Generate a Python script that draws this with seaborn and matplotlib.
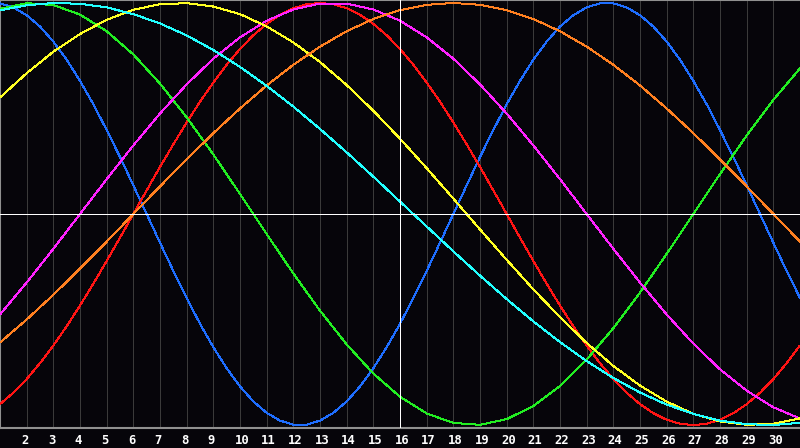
import pandas as pd
import seaborn as sns
import matplotlib.pyplot as plt
from matplotlib.transforms import ScaledTranslation

# days shown on the chart, today marked by the white line
days = list(range(1, 32))
half_days = [d / 2 for d in range(2, 63)]  # 1, 1.5, ... 31 for the fast cycles
label_days = list(range(2, 31))
today = 16

# cycle values
# fast cycles: one value per half day (1..31)
physical = [0.998, 0.979, 0.942, 0.888, 0.817, 0.731, 0.631, 0.520, 0.398, 0.270,
            0.136, 0.0, -0.136, -0.270, -0.398, -0.520, -0.631, -0.731, -0.817, -0.888,
            -0.942, -0.979, -0.998, -0.998, -0.979, -0.942, -0.888, -0.817, -0.731, -0.631,
            -0.520, -0.398, -0.270, -0.136, 0.0, 0.136, 0.270, 0.398, 0.520, 0.631,
            0.731, 0.817, 0.888, 0.942, 0.979, 0.998, 0.998, 0.979, 0.942, 0.888,
            0.817, 0.731, 0.631, 0.520, 0.398, 0.270, 0.136, 0.0, -0.136, -0.270, -0.398]
emotional = [-0.901, -0.847, -0.782, -0.707, -0.623, -0.532, -0.434, -0.330, -0.223, -0.112,
             0.0, 0.112, 0.223, 0.330, 0.434, 0.532, 0.623, 0.707, 0.782, 0.847,
             0.901, 0.944, 0.975, 0.994, 1.0, 0.994, 0.975, 0.944, 0.901, 0.847,
             0.782, 0.707, 0.623, 0.532, 0.434, 0.330, 0.223, 0.112, 0.0, -0.112,
             -0.223, -0.330, -0.434, -0.532, -0.623, -0.707, -0.782, -0.847, -0.901, -0.944,
             -0.975, -0.994, -1.0, -0.994, -0.975, -0.944, -0.901, -0.847, -0.782, -0.707, -0.623]
# slow cycles: one value per day (1..31)
intellectual = [0.972, 0.999, 0.990, 0.945, 0.866, 0.756, 0.618, 0.458, 0.282, 0.095,
                -0.095, -0.282, -0.458, -0.618, -0.756, -0.866, -0.945, -0.990, -0.999, -0.972,
                -0.910, -0.815, -0.690, -0.541, -0.372, -0.189, 0.0, 0.189, 0.372, 0.541, 0.690]
intuitive = [-0.476, -0.325, -0.165, 0.0, 0.165, 0.325, 0.476, 0.614, 0.736, 0.837,
             0.916, 0.969, 0.997, 0.997, 0.969, 0.916, 0.837, 0.736, 0.614, 0.476,
             0.325, 0.165, 0.0, -0.165, -0.325, -0.476, -0.614, -0.736, -0.837, -0.916, -0.969]
aesthetic = [0.552, 0.667, 0.769, 0.853, 0.920, 0.968, 0.994, 0.999, 0.983, 0.947,
             0.889, 0.813, 0.720, 0.611, 0.489, 0.357, 0.217, 0.073, -0.073, -0.217,
             -0.357, -0.489, -0.611, -0.720, -0.813, -0.889, -0.947, -0.983, -0.999, -0.994, -0.968]
awareness = [-0.609, -0.5, -0.383, -0.259, -0.131, 0.0, 0.131, 0.259, 0.383, 0.5,
             0.609, 0.707, 0.793, 0.866, 0.924, 0.966, 0.991, 1.0, 0.991, 0.966,
             0.924, 0.866, 0.793, 0.707, 0.609, 0.5, 0.383, 0.259, 0.131, 0.0, -0.131]
spiritual = [0.965, 0.989, 1.0, 0.996, 0.979, 0.947, 0.903, 0.846, 0.777, 0.697,
             0.607, 0.509, 0.403, 0.292, 0.177, 0.059, -0.059, -0.177, -0.292, -0.403,
             -0.509, -0.607, -0.697, -0.777, -0.846, -0.903, -0.947, -0.979, -0.996, -1.0, -0.989]

cycles = {
    "physical": (half_days, physical),
    "emotional": (half_days, emotional),
    "intellectual": (days, intellectual),
    "intuitive": (days, intuitive),
    "aesthetic": (days, aesthetic),
    "awareness": (days, awareness),
    "spiritual": (days, spiritual),
}
colors = {
    "physical": "#1e6eff",
    "emotional": "#ff1414",
    "intellectual": "#22ee22",
    "intuitive": "#ff22ff",
    "aesthetic": "#ffff22",
    "awareness": "#ff8020",
    "spiritual": "#22ffff",
}

df = pd.concat(
    [pd.DataFrame({"day": x, "value": v, "cycle": k}) for k, (x, v) in cycles.items()],
    ignore_index=True,
)

bg = "#06050a"
px = 0.72  # one pixel in points at 100 dpi
sns.set_style("dark", {"axes.facecolor": bg, "figure.facecolor": bg})
plt.rcParams["lines.antialiased"] = False

fig = plt.figure(figsize=(8, 4.48), dpi=100)
ax = fig.add_axes([0, 20 / 448, 1, 428 / 448])

sns.lineplot(data=df, x="day", y="value", hue="cycle", palette=colors,
             linewidth=px, legend=False, ax=ax, zorder=3)

ax.axhline(0, color="white", lw=px, zorder=5)
ax.axvline(today, color="white", lw=px, zorder=5)

ax.set_xlim(days[0], days[-1])
ax.set_ylim(-1.014, 1.014)
ax.set_xticks(label_days)
ax.set_xticklabels([str(d) for d in label_days])
ax.set_yticks([])
ax.set_xlabel("")
ax.set_ylabel("")
ax.grid(axis="x", color="#3a3a3a", lw=px, zorder=1)
ax.tick_params(axis="x", length=0, pad=4, colors="white")

shift = ScaledTranslation(-5.5 / 100, 0, fig.dpi_scale_trans)
for lbl in ax.get_xticklabels():
    lbl.set_fontfamily("DejaVu Sans Mono")
    lbl.set_fontweight("bold")
    lbl.set_fontsize(8.8)
    lbl.set_horizontalalignment("left")
    lbl.set_transform(lbl.get_transform() + shift)

for side in ["left", "top", "bottom"]:
    ax.spines[side].set_visible(True)
    ax.spines[side].set_color("#909090")
    ax.spines[side].set_linewidth(1.5)
ax.spines["right"].set_visible(False)

fig.savefig("out.png", dpi=100, facecolor=bg)
